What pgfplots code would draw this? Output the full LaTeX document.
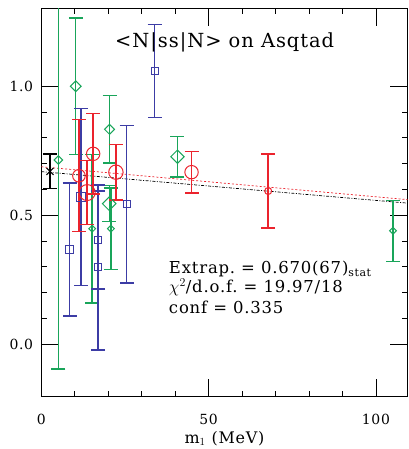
\documentclass[border=0pt]{standalone}
\usepackage{pgfplots}
\pgfplotsset{compat=1.18}
\usepackage{fontspec}
\setmainfont{DejaVu Serif}
\newfontfamily\wide[LetterSpace=5]{DejaVu Serif}

\definecolor{cred}{RGB}{235,35,45}
\definecolor{cgreen}{RGB}{25,165,90}
\definecolor{cblue}{RGB}{60,60,165}

\pgfplotsset{
  pt/.style n args={3}{only marks, #2, mark=#1,
    mark options={line width=1bp, fill=none, #3},
    error bars/y dir=both, error bars/y explicit,
    error bars/error bar style={#2, line width=1.4bp},
    error bars/error mark options={rotate=90, mark size=7bp, line width=1.4bp, #2}},
  gpt/.style={pt={square}{cgreen}{rotate=45}},
  bpt/.style={pt={square}{cblue}{}},
  rpt/.style={pt={o}{cred}{}},
}

\begin{document}
\begin{tikzpicture}
\begin{axis}[
  scale only axis, width=366.4bp, height=388.4bp,
  xmin=0, xmax=109.5, ymin=-0.203, ymax=1.302,
  xtick={0,50,100}, minor x tick num=4,
  ytick={0,0.5,1.0}, minor y tick num=4,
  tick align=inside, major tick length=18bp, minor tick length=6bp,
  every tick/.style={black, line width=0.8bp},
  axis line style={line width=0.9bp},
  /pgf/number format/assume math mode=true,
  tick label style={font=\wide\fontsize{14}{16}\selectfont},
  xticklabel style={anchor=base, yshift=-28bp},
  yticklabel style={anchor=east, inner sep=0pt, xshift=-8bp,
    /pgf/number format/fixed, /pgf/number format/fixed zerofill,
    /pgf/number format/precision=1},
  xlabel={m$_1$ (MeV)},
  xlabel style={font=\wide\fontsize{16}{18}\selectfont, at={(axis description cs:0.5,0)}, anchor=base, yshift=-46.5bp},
]
% fits
\addplot[black, line width=0.7bp, dash pattern=on 3pt off 1.5pt on 1pt off 1.5pt] coordinates {(0,0.669) (110,0.5465)};
\addplot[cred, line width=0.7bp, dash pattern=on 2pt off 2pt] coordinates {(0,0.688) (110,0.560)};

% green diamonds
\addplot[gpt, mark size=3.0bp] coordinates {(5.1,0.714) +- (0,0.810)};
\addplot[gpt, mark size=3.8bp] coordinates {(10.3,1.000) +- (0,0.265)};
\addplot[gpt, mark size=2.4bp] coordinates {(15.2,0.448) +- (0,0.288) (20.8,0.448) +- (0,0.157) (105.1,0.440) +- (0,0.118)};
\addplot[gpt, mark size=3.5bp] coordinates {(20.4,0.833) +- (0,0.130)};
\addplot[gpt, mark size=4.8bp] coordinates {(20.3,0.545) +- (0,0.070)};
\addplot[gpt, mark size=4.7bp] coordinates {(40.7,0.727) +- (0,0.078)};
% blue squares
\addplot[bpt, mark size=4.2bp] coordinates {(8.5,0.367) +- (0,0.258)};
\addplot[bpt, mark size=4.7bp] coordinates {(11.85,0.571) +- (0,0.343)};
\addplot[bpt, mark size=3.5bp] coordinates {(17.0,0.404) +- (0,0.190) (17.0,0.298) +- (0,0.320)
  (25.5,0.543) +- (0,0.306) (33.9,1.059) +- (0,0.180)};
% red circles
\addplot[rpt, mark size=6.3bp] coordinates {(11.25,0.653) +- (0,0.217)};
\addplot[rpt, mark size=8.0bp] coordinates {(13.7,0.588) +- (0,0.124)};
\addplot[rpt, mark size=6.7bp] coordinates {(15.5,0.738) +- (0,0.156) (44.9,0.667) +- (0,0.080)};
\addplot[rpt, mark size=7.2bp] coordinates {(22.3,0.667) +- (0,0.108)};
\addplot[rpt, mark size=3.5bp] coordinates {(67.8,0.594) +- (0,0.143)};
% extrapolated value
\addplot[pt={x}{black}{}, mark size=5bp] coordinates {(2.6,0.670) +- (0,0.067)};

\node[anchor=base, font=\wide\fontsize{19.5}{22}\selectfont] at (axis cs:54.8,1.151) {<N|ss|N> on Asqtad};
\node[anchor=base west, inner sep=0pt, font=\wide\fontsize{16.5}{18}\selectfont] at (axis cs:38.1,0.275)
  {Extrap.\ = 0.670(67)\raisebox{-3.5bp}{\fontsize{11}{11}\selectfont stat}};
\node[anchor=base west, inner sep=0pt, font=\wide\fontsize{16.5}{18}\selectfont] at (axis cs:38.1,0.200)
  {$\chi^2$/d.o.f.\ = 19.97/18};
\node[anchor=base west, inner sep=0pt, font=\wide\fontsize{16.5}{18}\selectfont] at (axis cs:38.1,0.120)
  {conf = 0.335};
\end{axis}
\pgfresetboundingbox
\path ([shift={(-41.3bp,-52.3bp)}]current axis.south west) rectangle ([shift={(1.3bp,8.3bp)}]current axis.north east);
\end{tikzpicture}
\end{document}
